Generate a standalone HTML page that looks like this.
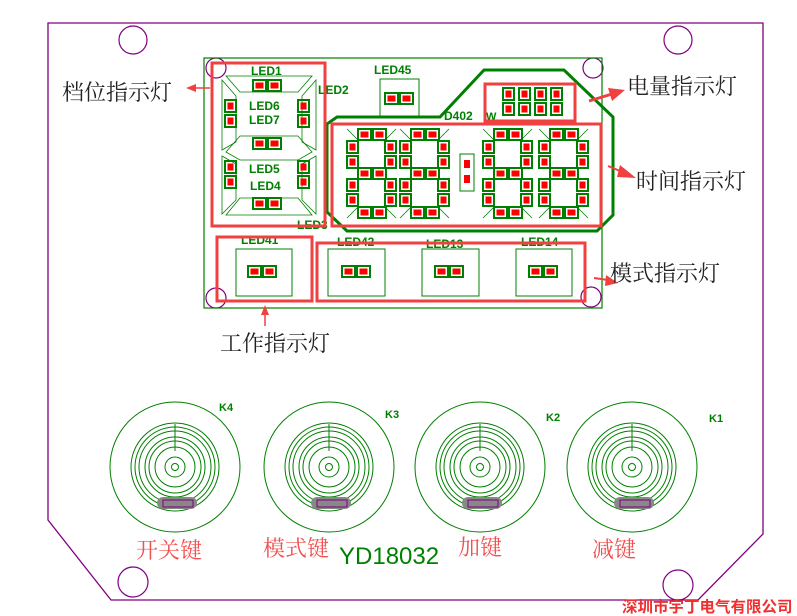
<!DOCTYPE html>
<html><head><meta charset="utf-8"><style>
html,body{margin:0;padding:0;background:#fff;}
svg{display:block;}
.cn{font-family:"Liberation Serif","Noto Serif CJK SC",serif;}
.g{font-family:"Liberation Sans",sans-serif;font-weight:bold;fill:#008000;}
</style></head><body>
<svg width="797" height="616" viewBox="0 0 797 616" xmlns="http://www.w3.org/2000/svg">
<defs>
<g id="hp"><rect x="0" y="0" width="13" height="11" fill="none" stroke="#008000" stroke-width="2"/><rect x="2.5" y="2.5" width="8" height="6" fill="#f00"/><rect x="15" y="0" width="13" height="11" fill="none" stroke="#008000" stroke-width="2"/><rect x="17.5" y="2.5" width="8" height="6" fill="#f00"/></g>
<g id="vp"><rect x="0" y="0" width="11" height="12" fill="none" stroke="#008000" stroke-width="2"/><rect x="2.5" y="2.5" width="6" height="7" fill="#f00"/><rect x="0" y="15" width="11" height="12" fill="none" stroke="#008000" stroke-width="2"/><rect x="2.5" y="17.5" width="6" height="7" fill="#f00"/></g>
<g id="dig">
<use href="#hp" x="11" y="0"/><use href="#hp" x="11" y="39"/><use href="#hp" x="11" y="78"/>
<use href="#vp" x="0" y="12"/><use href="#vp" x="38" y="12"/><use href="#vp" x="0" y="50"/><use href="#vp" x="38" y="50"/>
<path d="M0 0 L10 10 M49 0 L39 10 M0 89 L10 79 M49 89 L39 79" stroke="#008000" stroke-width="0.8" fill="none"/>
</g>
<g id="knob" fill="none" stroke="#008000" stroke-width="1">
<circle r="65"/><circle r="44"/><circle r="40"/><circle r="36"/><circle r="30"/><circle r="26"/><circle r="20"/><circle r="10"/><circle r="3.5"/>
<line x1="0" y1="-43" x2="0" y2="-16"/>
<rect x="-18" y="30" width="40" height="12" rx="6" fill="#888" stroke="none"/>
<rect x="-12" y="33" width="30" height="7" stroke="#800080"/>
</g>
</defs>
<!-- outer board -->
<polygon points="48,23 763,23 763,534 698,600 111,600 48,520" fill="none" stroke="#800080" stroke-width="1.3"/>
<g fill="none" stroke="#800080" stroke-width="1.2">
<circle cx="133" cy="40" r="14"/><circle cx="678" cy="40" r="14"/><circle cx="133" cy="582" r="15"/><circle cx="678" cy="585" r="15"/>
<circle cx="216" cy="68" r="10"/><circle cx="593" cy="68" r="10"/><circle cx="216" cy="298" r="10"/><circle cx="591" cy="297" r="10"/>
</g>
<!-- inner board -->
<rect x="204" y="58" width="398" height="250" fill="none" stroke="#008000" stroke-width="1.2"/>
<polygon points="327,124 337,117 440,117 484,70 564,70 613,117 613,215 597,231 347,231 327,212" fill="none" stroke="#008000" stroke-width="3"/>
<!-- LED gear block -->
<g fill="none" stroke="#008000" stroke-width="0.8">
<polygon points="226,76 312,76 298,92 240,92"/><polygon points="222,80 236,96 236,142 222,150"/><polygon points="316,80 302,96 302,142 316,150"/>
<polygon points="226,152 240,136 298,136 312,152 298,160 240,160"/><polygon points="222,156 236,164 236,200 222,214"/><polygon points="316,156 302,164 302,200 316,214"/>
<polygon points="226,215 240,198 298,198 312,215"/>
</g>
<use href="#hp" x="253" y="80"/><use href="#hp" x="253" y="138"/><use href="#hp" x="253" y="198"/>
<use href="#vp" x="225" y="100"/><use href="#vp" x="298" y="100"/><use href="#vp" x="225" y="161"/><use href="#vp" x="298" y="161"/>
<text class="g" x="251" y="75" font-size="12">LED1</text>
<text class="g" x="318" y="94" font-size="12">LED2</text>
<text class="g" x="249" y="110" font-size="12">LED6</text>
<text class="g" x="249" y="124" font-size="12">LED7</text>
<text class="g" x="249" y="173" font-size="12">LED5</text>
<text class="g" x="250" y="190" font-size="12">LED4</text>
<text class="g" x="297" y="229" font-size="12">LED3</text>
<text class="g" x="374" y="74" font-size="12">LED45</text>
<text class="g" x="444" y="120" font-size="12">D402</text>
<text class="g" x="486" y="120" font-size="11">W</text>
<rect x="380" y="79" width="39" height="38" fill="none" stroke="#008000" stroke-width="1"/>
<use href="#hp" x="385" y="93"/>
<!-- power LEDs -->
<use href="#vp" x="503" y="88"/><use href="#vp" x="519" y="88"/><use href="#vp" x="535" y="88"/><use href="#vp" x="551" y="88"/>
<!-- digits -->
<use href="#dig" x="347" y="129"/><use href="#dig" x="400" y="129"/><use href="#dig" x="483" y="129"/><use href="#dig" x="539" y="129"/>
<rect x="460" y="154" width="14" height="37" fill="none" stroke="#008000" stroke-width="1"/>
<rect x="464" y="160" width="6" height="8" fill="#f00"/><rect x="464" y="175" width="6" height="8" fill="#f00"/>
<!-- mode boxes -->
<g fill="none" stroke="#008000" stroke-width="1">
<rect x="236" y="249" width="56" height="47"/><rect x="328" y="249" width="57" height="47"/><rect x="422" y="249" width="57" height="47"/><rect x="516" y="249" width="56" height="47"/>
</g>
<use href="#hp" x="248" y="266"/><use href="#hp" x="342" y="266"/><use href="#hp" x="435" y="266"/><use href="#hp" x="529" y="266"/>
<text class="g" x="241" y="244" font-size="12">LED41</text>
<text class="g" x="337" y="246" font-size="12">LED42</text>
<text class="g" x="426" y="248" font-size="12">LED13</text>
<text class="g" x="521" y="246" font-size="12">LED14</text>
<!-- red boxes -->
<g fill="none" stroke="#f04040" stroke-width="3">
<rect x="212" y="63" width="113" height="163"/><rect x="332" y="124" width="269" height="102"/><rect x="485" y="84" width="90" height="37"/>
<rect x="217" y="237" width="95" height="64"/><rect x="317" y="243" width="268" height="58"/>
</g>
<!-- arrows -->
<g fill="#f04040" stroke="#f04040">
<line x1="210" y1="88" x2="193" y2="88" stroke-width="1.5"/><polygon points="186,88 196,84 196,92" stroke="none"/>
<line x1="589" y1="101" x2="612" y2="94" stroke-width="3"/><polygon points="625,90 608,88 612,101" stroke="none"/>
<line x1="608" y1="166" x2="625" y2="173" stroke-width="2"/><polygon points="636,178 620,165 617,177" stroke="none"/>
<line x1="594" y1="278" x2="608" y2="280" stroke-width="2"/><polygon points="618,283 606,275 605,286" stroke="none"/>
<line x1="265" y1="326" x2="265" y2="313" stroke-width="1.5"/><polygon points="265,305 261,315 269,315" stroke="none"/>
</g>
<!-- labels -->
<g class="cn" font-size="22" fill="#222">
<text x="62" y="100">档位指示灯</text>
<text x="627" y="94">电量指示灯</text>
<text x="636" y="189">时间指示灯</text>
<text x="610" y="281">模式指示灯</text>
<text x="220" y="351">工作指示灯</text>
</g>
<!-- knobs -->
<use href="#knob" x="175" y="467"/><use href="#knob" x="329" y="467"/><use href="#knob" x="480" y="467"/><use href="#knob" x="632" y="467"/>
<text class="g" x="219" y="411" font-size="11">K4</text>
<text class="g" x="385" y="418" font-size="11">K3</text>
<text class="g" x="546" y="421" font-size="11">K2</text>
<text class="g" x="709" y="422" font-size="11">K1</text>
<g class="cn" font-size="22" fill="#f05050">
<text x="136" y="558">开关键</text>
<text x="263" y="556">模式键</text>
<text x="458" y="555">加键</text>
<text x="592" y="557">减键</text>
</g>
<text x="339" y="564" font-family="Liberation Sans,sans-serif" font-size="24" fill="#008000">YD18032</text>
<text x="622" y="612" font-family="Liberation Sans,'Noto Sans CJK SC',sans-serif" font-size="15.5" font-weight="bold" fill="#f03030">深圳市宇丁电气有限公司</text>
</svg>
</body></html>
